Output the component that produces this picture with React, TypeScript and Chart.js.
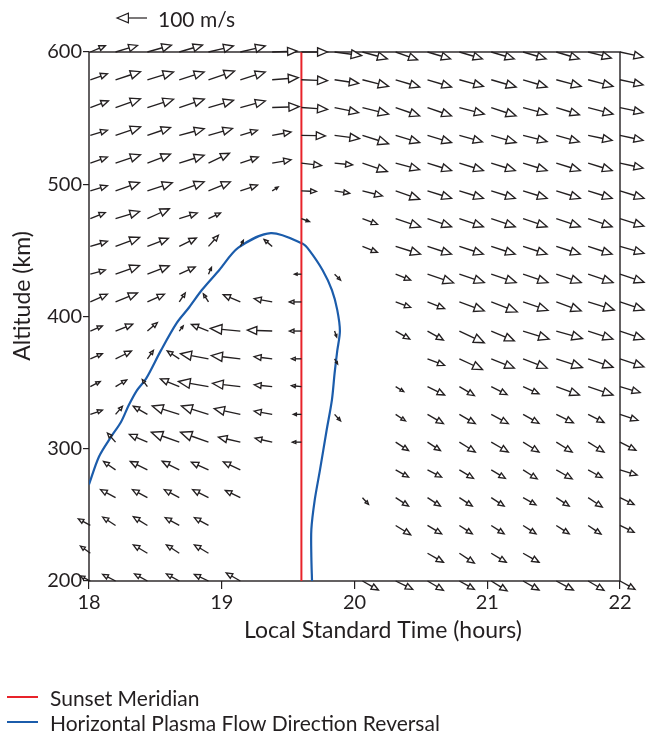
import { useEffect, useRef } from 'react';
import { Chart, registerables } from 'chart.js';

Chart.register(...registerables);

// ---- data ----
const TIMES = [18.01, 18.2, 18.44, 18.68, 18.9, 19.14, 19.38, 19.6, 19.85, 20.06, 20.31, 20.55, 20.79, 21.03, 21.27, 21.52, 21.76, 22.0];
const ALTITUDES = [600, 579, 558, 537, 516, 495, 474, 453, 432, 411, 389, 368, 347, 326, 305, 284, 263, 242, 221, 200];

// eastward (horizontal) component, m/s, rows top (600 km) to bottom (200 km)
const EAST: (number | null)[][] = [
  [50, 73, 80, 77, 83, 83, 83, 87, 90, 83, 73, 77, 77, 77, 77, 77, 77, 77],
  [57, 83, 87, 83, 87, 83, 87, 87, 80, 87, 80, 80, 80, 83, 80, 83, 83, 77],
  [60, 83, 87, 83, 83, 83, 90, 87, 80, 87, 80, 80, 83, 83, 80, 77, 83, 77],
  [57, 83, 77, 83, 80, 57, 63, 80, 83, 87, 80, 80, 77, 83, 80, 77, 80, 77],
  [57, 83, 77, 83, 70, 60, 63, 67, 60, 83, 80, 80, 80, 80, 80, 80, 80, 77],
  [57, 80, 83, 83, 73, 57, 20, 50, 50, 67, 80, 80, 80, 80, 80, 80, 80, 80],
  [50, 80, 73, 60, 40, null, null, 27, null, 50, 83, 80, 80, 80, 80, 80, 80, 80],
  [57, 80, 70, 57, 33, 10, -27, null, null, 50, 83, 80, 80, 80, 80, 80, 80, 80],
  [50, 80, 73, 53, 10, null, null, -23, 20, null, 50, 87, 83, 83, 83, 83, 83, 80],
  [57, 73, 57, 20, -17, -57, -60, -40, null, null, 50, 57, 83, 87, 83, 83, 87, 80],
  [40, 57, 33, 13, -57, -100, -83, -40, 7, null, 47, 53, 83, 77, 87, 87, 83, 80],
  [40, 53, 20, -40, -93, -97, -60, -33, 10, null, null, 57, 77, 77, 80, 87, 83, 80],
  [33, 37, -17, -63, -100, -93, -60, -33, null, null, 27, 57, 50, 53, 53, 77, 83, 67],
  [40, 23, -47, -90, -90, -87, -60, -27, 20, null, 33, 53, 53, 57, 53, 57, 53, 60],
  [null, -27, -60, -93, -93, -73, -57, -30, null, null, 43, 43, 53, 57, 53, 53, 53, 53],
  [null, -40, -57, -57, -57, -57, null, null, null, null, 43, 47, 47, 47, 47, 53, 47, 57],
  [null, -50, -50, -50, -53, -50, null, null, null, 20, 43, 43, 43, 43, 43, 43, 47, 47],
  [-40, -43, -47, -47, -47, null, null, null, null, null, 50, 47, 43, 43, 43, 43, 43, 47],
  [-33, null, -47, -43, -47, null, null, null, null, null, null, 53, 50, 50, 53, null, null, null],
  [-33, -43, -43, -43, -47, -47, null, null, null, 53, 57, 53, 50, 53, 53, 57, 53, 50],
];

// second (vertical-in-plot) component, m/s
const NORTH: (number | null)[][] = [
  [21, 22, 23, 23, 20, 20, 3, 0, -12, -23, -26, -23, -23, -23, -23, -23, -20, -17],
  [20, 27, 26, 26, 29, 26, 7, -3, -12, -22, -24, -24, -22, -24, -24, -22, -22, -17],
  [22, 29, 28, 28, 24, 22, 3, -6, -17, -22, -28, -28, -22, -28, -22, -24, -22, -17],
  [17, 28, 26, 22, 23, 17, 11, -2, -11, -28, -24, -24, -22, -24, -21, -22, -17, -17],
  [20, 28, 30, 26, 33, 20, 11, -8, -6, -28, -22, -25, -25, -25, -25, -25, -25, -17],
  [17, 28, 27, 30, 30, 19, 13, -2, -8, -17, -28, -25, -25, -25, -25, -25, -25, -25],
  [20, 24, 33, 19, 19, null, null, -10, null, -19, -28, -27, -27, -27, -27, -27, -27, -25],
  [17, 30, 27, 28, 37, 20, 23, null, null, -20, -26, -26, -26, -26, -26, -26, -26, -23],
  [14, 29, 28, 24, 23, null, null, 0, -20, null, -20, -29, -28, -28, -28, -28, -28, -27],
  [26, 30, 26, 30, 27, 24, 11, 0, null, null, -18, -22, -30, -33, -28, -30, -27, -27],
  [17, 23, 28, 17, 22, 9, 3, 0, -20, null, -27, -30, -39, -33, -27, -25, -27, -27],
  [17, 26, 28, 26, 17, 11, 7, 0, -17, null, null, -22, -36, -31, -31, -29, -28, -27],
  [17, 22, 23, 26, 17, 11, 6, 3, null, null, -17, -28, -30, -27, -24, -28, -28, -20],
  [14, 27, 27, 28, 28, 19, 11, 0, -22, null, -22, -31, -31, -31, -30, -28, -27, -20],
  [null, 30, 26, 33, 33, 17, 13, 0, null, null, -28, -28, -33, -33, -33, -33, -33, -27],
  [null, 28, 28, 29, 26, 27, null, null, null, null, -24, -24, -28, -28, -30, -30, -26, -17],
  [null, 27, 27, 27, 27, 24, null, null, null, -22, -28, -28, -28, -28, -24, -28, -31, -23],
  [22, 28, 29, 26, 26, null, null, null, null, null, -31, -28, -28, -28, -28, -28, -29, -23],
  [24, null, 28, 28, 28, null, null, null, null, null, null, -30, -33, -30, -30, null, null, null],
  [17, 22, 24, 24, 22, 27, null, null, null, -30, -28, -31, -28, -33, -30, -30, -31, -28],
];

const SUNSET_LST = 19.6;
const REVERSAL_LST = [18.0, 18.075, 18.166, 18.24, 18.3, 18.36, 18.43, 18.54, 18.66, 18.755, 18.85, 18.98, 19.125, 19.37, 19.61, 19.66, 19.76, 19.83, 19.87, 19.89, 19.87, 19.85, 19.83, 19.79, 19.74, 19.7, 19.675, 19.675, 19.68];
const REVERSAL_ALT = [273, 294, 309, 320, 333, 344, 353, 374, 395, 407, 420, 435, 452, 463, 455, 450, 435, 420, 405, 389, 374, 357, 337, 314, 284, 261, 239, 218, 200];

const X_TICKS = [18, 19, 20, 21, 22];
const Y_TICKS = [200, 300, 400, 500, 600];
const REF_SPEED = 100; // m/s
const REF_LABEL = '100 m/s';

// vector scale: 1 m/s in axis units
const HOURS_PER_MS = 0.00226;
const KM_PER_MS = 0.2265;

const INK = '#231f20';
const RED = '#e8232a';
const BLUE = '#1b5cab';
const FONT = 'Lato, "Open Sans", sans-serif';

function drawArrow(ctx: CanvasRenderingContext2D, x0: number, y0: number, x1: number, y1: number) {
  const dx = x1 - x0, dy = y1 - y0;
  const L = Math.hypot(dx, dy);
  if (L < 0.5) return;
  const ux = dx / L, uy = dy / L;
  const nx = -uy, ny = ux;
  const hl = L * 0.38;
  const hw = L * 0.16;
  const bx = x1 - ux * hl, by = y1 - uy * hl;
  ctx.beginPath();
  ctx.moveTo(x0, y0);
  ctx.lineTo(bx, by);
  ctx.stroke();
  ctx.beginPath();
  ctx.moveTo(x1, y1);
  ctx.lineTo(bx + nx * hw, by + ny * hw);
  ctx.lineTo(bx - nx * hw, by - ny * hw);
  ctx.closePath();
  ctx.fillStyle = '#ffffff';
  ctx.fill();
  ctx.stroke();
}

const framePlugin = {
  id: 'frame',
  beforeDatasetsDraw(chart: any) {
    const { ctx, chartArea: a } = chart;
    ctx.save();
    ctx.strokeStyle = INK;
    ctx.lineWidth = 1.4;
    ctx.strokeRect(a.left, a.top, a.right - a.left, a.bottom - a.top);
    ctx.restore();
  },
};

const quiverPlugin = {
  id: 'quiver',
  afterDatasetsDraw(chart: any) {
    const { ctx } = chart;
    const xs = chart.scales.x, ys = chart.scales.y;
    ctx.save();
    ctx.strokeStyle = INK;
    ctx.lineWidth = 1.35;
    ctx.lineJoin = 'miter';
    ALTITUDES.forEach((alt, i) => {
      TIMES.forEach((t, j) => {
        const u = EAST[i][j];
        const v = NORTH[i][j];
        if (u == null || v == null) return;
        const x0 = xs.getPixelForValue(t);
        const y0 = ys.getPixelForValue(alt);
        const x1 = xs.getPixelForValue(t + u * HOURS_PER_MS);
        const y1 = ys.getPixelForValue(alt + v * KM_PER_MS);
        drawArrow(ctx, x0, y0, x1, y1);
      });
    });
    // reference arrow (100 m/s, pointing west)
    const a = chart.chartArea;
    const len = xs.getPixelForValue(18 + REF_SPEED * HOURS_PER_MS) - xs.getPixelForValue(18);
    const tailX = a.left + 58;
    const ky = a.top - 34;
    ctx.lineWidth = 1.2;
    drawArrow(ctx, tailX, ky, tailX - len, ky);
    ctx.fillStyle = INK;
    ctx.font = `21px ${FONT}`;
    ctx.textAlign = 'left';
    ctx.textBaseline = 'alphabetic';
    ctx.fillText(REF_LABEL, tailX + 11, ky + 8.5);
    ctx.restore();
  },
};

const textPlugin = {
  id: 'texts',
  afterDraw(chart: any) {
    const { ctx, chartArea: a } = chart;
    ctx.save();
    ctx.fillStyle = INK;
    ctx.font = `23px ${FONT}`;
    ctx.textBaseline = 'alphabetic';
    ctx.textAlign = 'center';
    ctx.fillText('Local Standard Time (hours)', a.left + 294, a.bottom + 57);
    ctx.save();
    ctx.translate(30, a.top + 244);
    ctx.rotate(-Math.PI / 2);
    ctx.fillText('Altitude (km)', 0, 0);
    ctx.restore();
    // legend
    ctx.textAlign = 'left';
    ctx.font = `21px ${FONT}`;
    chart.data.datasets.forEach((ds: any, k: number) => {
      const y = 697 + 25 * k;
      ctx.strokeStyle = ds.borderColor;
      ctx.lineWidth = 2;
      ctx.beginPath();
      ctx.moveTo(7, y);
      ctx.lineTo(38, y);
      ctx.stroke();
      ctx.fillStyle = INK;
      ctx.fillText(ds.label, 50, y + 8.5);
    });
    ctx.restore();
  },
};

export default function App() {
  const ref = useRef<HTMLCanvasElement | null>(null);
  useEffect(() => {
    document.body.style.margin = '0';
    if (!ref.current) return;
    const chart = new Chart(ref.current, {
      type: 'scatter',
      data: {
        datasets: [
          {
            label: 'Sunset Meridian',
            data: [
              { x: SUNSET_LST, y: Y_TICKS[0] },
              { x: SUNSET_LST, y: Y_TICKS[Y_TICKS.length - 1] },
            ],
            showLine: true,
            borderColor: RED,
            backgroundColor: RED,
            borderWidth: 2,
            pointRadius: 0,
          },
          {
            label: 'Horizontal Plasma Flow Direction Reversal',
            data: REVERSAL_LST.map((x, i) => ({ x, y: REVERSAL_ALT[i] })),
            showLine: true,
            borderColor: BLUE,
            backgroundColor: BLUE,
            borderWidth: 2.2,
            pointRadius: 0,
            tension: 0.3,
          },
        ],
      },
      options: {
        animation: false,
        responsive: true,
        maintainAspectRatio: false,
        layout: { padding: { left: 0, right: 26, top: 52, bottom: 110 } },
        plugins: { legend: { display: false }, tooltip: { enabled: false }, title: { display: false } },
        scales: {
          x: {
            type: 'linear',
            min: X_TICKS[0],
            max: X_TICKS[X_TICKS.length - 1],
            afterBuildTicks: (s: any) => { s.ticks = X_TICKS.map((v) => ({ value: v })); },
            afterFit: (s: any) => { s.height = 45; },
            border: { display: false },
            grid: { drawOnChartArea: false, drawTicks: true, tickLength: 8, color: INK, lineWidth: 1.2 },
            ticks: { color: INK, font: { family: FONT, size: 20 }, padding: 2, maxRotation: 0 },
          },
          y: {
            type: 'linear',
            min: Y_TICKS[0],
            max: Y_TICKS[Y_TICKS.length - 1],
            afterBuildTicks: (s: any) => { s.ticks = Y_TICKS.map((v) => ({ value: v })); },
            afterFit: (s: any) => { s.width = 89; },
            border: { display: false },
            grid: { drawOnChartArea: false, drawTicks: true, tickLength: 6, color: INK, lineWidth: 1.2 },
            ticks: { color: INK, font: { family: FONT, size: 20 }, padding: 1 },
          },
        },
      },
      plugins: [framePlugin, quiverPlugin, textPlugin],
    });
    return () => chart.destroy();
  }, []);
  return (
    <div style={{ position: 'relative', width: 646, height: 736 }}>
      <canvas ref={ref} />
    </div>
  );
}
